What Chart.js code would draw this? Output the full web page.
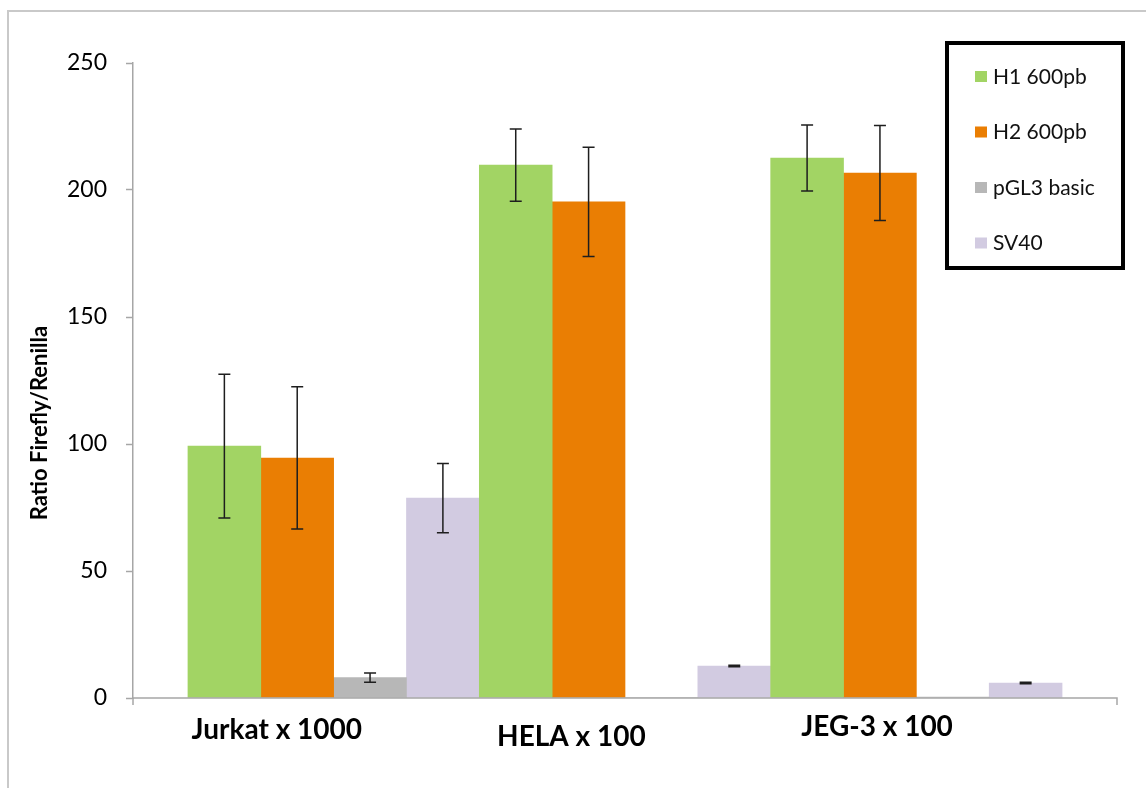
<!DOCTYPE html>
<html>
<head>
<meta charset="utf-8">
<title>Ratio Firefly/Renilla</title>
<script src="https://cdn.jsdelivr.net/npm/chart.js@4/dist/chart.umd.min.js"></script>
<style>
    html, body { margin: 0; padding: 0; background: #fff; }
    #wrap { position: relative; width: 1146px; height: 788px; }
</style>
</head>
<body>
<div id="wrap"><canvas id="luc-chart"></canvas></div>
<script>
// Data
const categories = ['Jurkat x 1000', 'HELA x 100', 'JEG-3 x 100'];
const seriesNames = ['H1 600pb', 'H2 600pb', 'pGL3 basic', 'SV40'];
const h1Values = [99.2, 209.8, 212.6];
const h1Errors = [28.3, 14.2, 13.0];
const h2Values = [94.5, 195.3, 206.7];
const h2Errors = [28.0, 21.5, 18.7];
const pgl3Values = [8.0, 0.2, 0.4];
const pgl3Errors = [1.8, 0, 0];
const sv40Values = [78.7, 12.6, 5.9];
const sv40Errors = [13.6, 0.3, 0.3];
const yTicks = [0, 50, 100, 150, 200, 250];

const seriesColors = ['#a2d464', '#ea7e03', '#b7b7b7', '#d2cbe1'];
const axisColor = '#a6a6a6';
const FONT = 'Lato, "Open Sans", sans-serif';

// category labels sit a bit left of their groups in the original
const labelShift = [-0.195, -0.184, -0.135];
const labelDrop = [32, 39, 29];

const seriesValues = [h1Values, h2Values, pgl3Values, sv40Values];
const seriesErrors = [h1Errors, h2Errors, pgl3Errors, sv40Errors];

const datasets = seriesNames.map((name, s) => ({
    label: name,
    data: seriesValues[s].map((v, i) => ({ x: i, y: v })),
    backgroundColor: seriesColors[s],
    borderWidth: 0,
    barPercentage: 1,
    categoryPercentage: 1,
    errors: seriesErrors[s]
}));

const decorations = {
    id: 'decorations',
    beforeDraw(chart) {
        const ctx = chart.ctx;
        ctx.save();
        ctx.strokeStyle = '#c9c9c9';
        ctx.lineWidth = 2;
        ctx.beginPath();
        ctx.moveTo(8, 788);
        ctx.lineTo(8, 11);
        ctx.lineTo(1146, 11);
        ctx.stroke();
        ctx.restore();
    },
    afterDatasetsDraw(chart) {
        const ctx = chart.ctx;
        const y = chart.scales.y;
        const x = chart.scales.x;
        const area = chart.chartArea;

        // x axis line with end ticks
        ctx.save();
        ctx.strokeStyle = axisColor;
        ctx.lineWidth = 1.5;
        ctx.beginPath();
        ctx.moveTo(area.left, area.bottom + 7);
        ctx.lineTo(area.left, area.bottom);
        ctx.lineTo(area.right, area.bottom);
        ctx.lineTo(area.right, area.bottom + 7);
        ctx.stroke();

        // error bars
        ctx.strokeStyle = '#1e1e1e';
        ctx.lineWidth = 1.5;
        chart.data.datasets.forEach((ds, s) => {
            const meta = chart.getDatasetMeta(s);
            meta.data.forEach((bar, i) => {
                const err = ds.errors[i];
                if (!err) return;
                const v = ds.data[i].y;
                const top = y.getPixelForValue(v + err);
                const bot = y.getPixelForValue(Math.max(v - err, 0));
                ctx.beginPath();
                ctx.moveTo(bar.x, top);
                ctx.lineTo(bar.x, bot);
                ctx.moveTo(bar.x - 6, top);
                ctx.lineTo(bar.x + 6, top);
                ctx.moveTo(bar.x - 6, bot);
                ctx.lineTo(bar.x + 6, bot);
                ctx.stroke();
            });
        });

        // category labels
        ctx.fillStyle = '#000';
        ctx.font = 'bold 28px ' + FONT;
        ctx.textAlign = 'center';
        ctx.textBaseline = 'middle';
        categories.forEach((name, i) => {
            ctx.fillText(name, x.getPixelForValue(i + labelShift[i]), area.bottom + labelDrop[i]);
        });

        // y axis title
        ctx.save();
        ctx.translate(40, 423);
        ctx.rotate(-Math.PI / 2);
        ctx.font = 'bold 22px ' + FONT;
        ctx.fillText('Ratio Firefly/Renilla', 0, 0);
        ctx.restore();

        // legend box
        ctx.strokeStyle = '#000';
        ctx.lineWidth = 4;
        ctx.strokeRect(947, 43, 176, 225);
        ctx.font = '21px ' + FONT;
        ctx.textAlign = 'left';
        seriesNames.forEach((name, s) => {
            const cy = 77 + s * 55.5;
            ctx.fillStyle = seriesColors[s];
            ctx.fillRect(975, cy - 6, 12, 11);
            ctx.fillStyle = '#111';
            ctx.fillText(name, 993, cy);
        });
        ctx.restore();
    }
};

new Chart(document.getElementById('luc-chart'), {
    type: 'bar',
    data: { datasets },
    options: {
        responsive: true,
        maintainAspectRatio: false,
        animation: false,
        layout: { padding: { left: 0, top: 63, right: 29, bottom: 90 } },
        plugins: {
            legend: { display: false },
            tooltip: { enabled: false }
        },
        scales: {
            x: {
                type: 'linear',
                display: false,
                offset: false,
                grid: { offset: false },
                min: -0.6886,
                max: 2.6886,
                afterBuildTicks: axis => {
                    axis.ticks = categories.map((c, i) => ({ value: i }));
                }
            },
            y: {
                min: 0,
                max: 250,
                afterBuildTicks: axis => {
                    axis.ticks = yTicks.map(v => ({ value: v }));
                },
                afterFit: axis => { axis.width = 133; },
                border: { color: axisColor, width: 1.5 },
                grid: {
                    drawOnChartArea: false,
                    tickLength: 7,
                    tickWidth: 1.5,
                    color: axisColor
                },
                ticks: {
                    padding: 19,
                    color: '#000',
                    font: { family: FONT, size: 23 }
                }
            }
        }
    },
    plugins: [decorations]
});
</script>
</body>
</html>
